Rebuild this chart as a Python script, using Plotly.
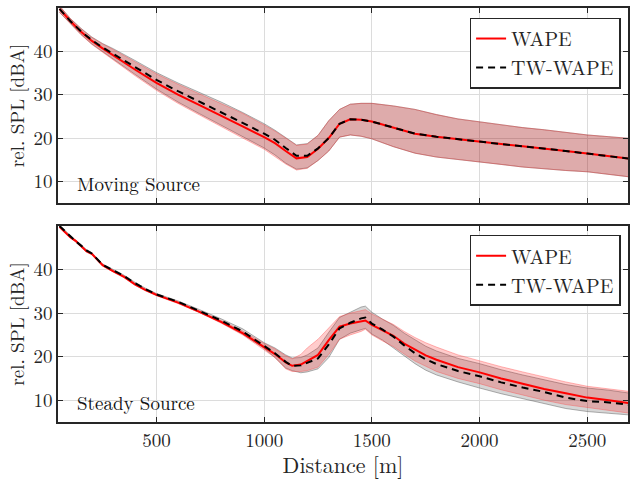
import plotly.graph_objects as go

# ---------------- data: Moving Source (top) ----------------
x_mov = [50, 100, 150, 200, 250, 300, 400, 500, 600, 700, 800, 900, 1000, 1050, 1100, 1150,
         1200, 1250, 1300, 1350, 1400, 1450, 1500, 1600, 1700, 1800, 1900, 2000, 2100, 2200,
         2300, 2400, 2500, 2600, 2700]
wape_mov = [49.8, 47.0, 44.5, 42.4, 40.7, 39.0, 35.8, 32.7, 30.0, 27.6, 25.2, 22.7, 20.2, 18.8,
            17.0, 15.3, 15.6, 17.5, 20.0, 23.3, 24.3, 24.2, 23.8, 22.4, 21.0, 20.3, 19.7, 19.1,
            18.6, 18.1, 17.6, 17.0, 16.4, 15.8, 15.2]
wape_mov_hi = [50.5, 47.6, 45.2, 43.2, 41.7, 40.4, 37.6, 34.8, 32.4, 30.2, 28.0, 25.7, 23.0, 21.6,
               20.0, 18.3, 18.6, 20.6, 24.0, 26.6, 27.8, 28.0, 28.0, 27.4, 26.6, 25.4, 24.4, 23.7,
               23.0, 22.4, 21.9, 21.3, 20.7, 20.3, 19.9]
wape_mov_lo = [49.0, 46.4, 43.8, 41.6, 39.9, 38.0, 34.4, 31.0, 28.0, 25.3, 22.6, 20.0, 17.4, 15.8,
               14.0, 12.6, 13.0, 14.8, 17.0, 20.2, 20.7, 20.4, 19.8, 18.0, 16.5, 15.6, 15.0, 14.5,
               13.9, 13.3, 12.9, 12.5, 12.2, 11.6, 11.0]
tw_mov = [49.8, 47.0, 44.6, 42.6, 40.9, 39.4, 36.4, 33.4, 30.8, 28.4, 26.0, 23.5, 21.0, 19.6,
          17.7, 15.9, 15.9, 17.6, 20.0, 23.3, 24.3, 24.2, 23.8, 22.4, 21.0, 20.3, 19.7, 19.1,
          18.6, 18.1, 17.6, 17.0, 16.4, 15.8, 15.2]
tw_mov_hi = [50.5, 47.6, 45.3, 43.3, 41.8, 40.6, 37.9, 35.1, 32.7, 30.5, 28.3, 25.9, 23.3, 21.8,
             20.2, 18.4, 18.7, 20.6, 24.0, 26.6, 27.8, 28.0, 28.0, 27.4, 26.6, 25.4, 24.4, 23.7,
             23.0, 22.4, 21.9, 21.3, 20.7, 20.3, 19.9]
tw_mov_lo = [49.0, 46.4, 43.9, 41.7, 40.0, 38.2, 34.7, 31.3, 28.3, 25.6, 22.9, 20.3, 17.7, 16.1,
             14.2, 12.8, 13.1, 14.8, 17.0, 20.2, 20.7, 20.4, 19.8, 18.0, 16.5, 15.6, 15.0, 14.5,
             13.9, 13.3, 12.9, 12.5, 12.2, 11.6, 11.0]

# ---------------- data: Steady Source (bottom) ----------------
x_std = [50, 75, 100, 125, 150, 175, 200, 250, 300, 350, 400, 450, 500, 600, 700, 800, 900, 1000,
         1050, 1100, 1130, 1170, 1200, 1250, 1300, 1350, 1400, 1450, 1470, 1500, 1550, 1600, 1650,
         1700, 1750, 1800, 1900, 2000, 2100, 2200, 2300, 2400, 2500, 2600, 2700]
wape_std = [49.8, 48.6, 47.4, 46.6, 45.3, 44.2, 43.6, 41.0, 39.6, 38.3, 36.6, 35.3, 34.2, 32.4,
            30.3, 28.0, 25.4, 22.2, 20.6, 18.7, 17.9, 18.2, 19.0, 20.4, 23.8, 26.9, 27.6, 28.0,
            28.3, 27.3, 26.0, 24.8, 23.0, 21.6, 20.3, 19.3, 17.6, 16.4, 15.0, 13.8, 12.6, 11.6,
            10.6, 10.0, 9.3]
wape_std_hi = [50.0, 48.8, 47.6, 46.8, 45.5, 44.4, 43.8, 41.2, 39.8, 38.5, 36.8, 35.5, 34.4, 32.6,
               30.5, 28.3, 25.9, 23.0, 21.8, 20.2, 19.5, 20.5, 22.0, 24.0, 26.6, 29.2, 30.0, 30.6,
               30.8, 29.8, 28.6, 27.4, 25.8, 24.4, 23.2, 22.2, 20.4, 19.0, 17.7, 16.5, 15.3, 14.2,
               13.2, 12.6, 12.0]
wape_std_lo = [49.6, 48.4, 47.2, 46.4, 45.1, 44.0, 43.4, 40.8, 39.4, 38.1, 36.4, 35.1, 34.0, 32.2,
               30.1, 27.7, 25.0, 21.5, 19.8, 17.2, 16.6, 16.6, 16.8, 17.6, 20.5, 24.0, 25.0, 25.8,
               26.3, 25.0, 23.6, 22.3, 20.6, 19.0, 17.8, 16.6, 15.0, 13.8, 12.4, 11.2, 10.0, 9.0,
               8.3, 7.7, 7.0]
tw_std = [50.0, 48.8, 47.6, 46.5, 45.5, 44.4, 43.7, 41.1, 39.8, 38.5, 36.9, 35.5, 34.3, 32.6,
          30.5, 28.3, 25.8, 22.6, 20.8, 18.8, 17.9, 18.0, 18.6, 19.6, 22.8, 26.5, 27.8, 28.8,
          29.0, 27.6, 26.2, 24.6, 22.6, 20.8, 19.4, 18.3, 16.7, 15.5, 14.1, 12.9, 11.9, 10.6,
          9.8, 9.5, 8.9]
tw_std_hi = [50.2, 49.0, 47.8, 46.7, 45.7, 44.6, 43.9, 41.3, 40.0, 38.7, 37.1, 35.7, 34.5, 32.8,
             30.8, 28.7, 26.4, 23.2, 22.0, 20.4, 19.7, 19.8, 20.4, 22.0, 25.6, 29.0, 30.2, 31.4,
             31.6, 30.2, 28.6, 27.2, 25.4, 23.8, 22.4, 21.3, 19.6, 18.4, 17.0, 15.8, 14.7, 13.6,
             12.8, 12.3, 11.6]
tw_std_lo = [49.8, 48.6, 47.4, 46.3, 45.3, 44.2, 43.5, 40.9, 39.6, 38.3, 36.7, 35.3, 34.1, 32.4,
             30.2, 27.9, 25.2, 21.9, 19.8, 17.4, 16.8, 16.3, 16.5, 17.2, 19.8, 24.0, 25.4, 26.2,
             26.5, 25.2, 23.8, 22.2, 20.2, 18.4, 16.9, 15.8, 14.2, 12.8, 11.5, 10.3, 9.2, 8.1,
             7.4, 7.0, 6.6]

panel_labels = ["Moving Source", "Steady Source"]
x_ticks = [500, 1000, 1500, 2000, 2500]
y_ticks = [10, 20, 30, 40]

FONT = "Latin Modern Roman, Liberation Serif, serif"
TXT = "#262626"

fig = go.Figure()


def band(x, hi, lo, fill, edge, xa, ya):
    fig.add_trace(go.Scatter(
        x=list(x) + list(x)[::-1], y=list(hi) + list(lo)[::-1],
        fill="toself", fillcolor=fill, mode="lines",
        line=dict(color=edge, width=0.8), hoverinfo="skip", showlegend=False,
        xaxis=xa, yaxis=ya))


panels = [
    (x_mov, wape_mov, wape_mov_hi, wape_mov_lo, tw_mov, tw_mov_hi, tw_mov_lo, "x", "y", "legend"),
    (x_std, wape_std, wape_std_hi, wape_std_lo, tw_std, tw_std_hi, tw_std_lo, "x2", "y2", "legend2"),
]

for (x, w, whi, wlo, t, thi, tlo, xa, ya, lg) in panels:
    band(x, thi, tlo, "rgba(0,0,0,0.16)", "rgba(90,90,90,0.6)", xa, ya)
    band(x, whi, wlo, "rgba(255,0,0,0.2)", "rgba(255,60,60,0.45)", xa, ya)
    fig.add_trace(go.Scatter(x=x, y=w, mode="lines", name="WAPE",
                             line=dict(color="#ff0000", width=2), xaxis=xa, yaxis=ya, legend=lg))
    fig.add_trace(go.Scatter(x=x, y=t, mode="lines", name="TW-WAPE",
                             line=dict(color="#000000", width=2, dash="7px,5px"),
                             xaxis=xa, yaxis=ya, legend=lg))

axis_common = dict(
    range=[43, 2689], showgrid=True, gridcolor="#dcdcdc", gridwidth=1,
    showline=True, linecolor=TXT, linewidth=1.5, mirror="ticks",
    ticks="inside", ticklen=5, tickcolor=TXT, zeroline=False,
    tickvals=x_ticks, tickfont=dict(family=FONT, size=19, color=TXT),
)
yaxis_common = dict(
    range=[5, 50], showgrid=True, gridcolor="#dcdcdc", gridwidth=1,
    showline=True, linecolor=TXT, linewidth=1.5, mirror="ticks",
    ticks="inside", ticklen=5, tickcolor=TXT, zeroline=False,
    tickvals=y_ticks, tickfont=dict(family=FONT, size=19, color=TXT),
    title=dict(text="rel. SPL [dBA]", font=dict(family=FONT, size=19, color=TXT), standoff=4),
)

legend_common = dict(
    bgcolor="white", bordercolor=TXT, borderwidth=1.5,
    font=dict(family=FONT, size=20, color=TXT),
    xanchor="right", yanchor="top", tracegroupgap=0,
    itemwidth=30,
)

fig.update_layout(
    width=630, height=479,
    margin=dict(l=58, r=0, t=8, b=57),
    paper_bgcolor="white", plot_bgcolor="white",
    showlegend=True,
    xaxis=dict(axis_common, domain=[0, 1], anchor="y", showticklabels=False),
    yaxis=dict(yaxis_common, domain=[0.529, 1.0], anchor="x"),
    xaxis2=dict(axis_common, domain=[0, 1], anchor="y2",
                title=dict(text="Distance [m]", font=dict(family=FONT, size=22, color=TXT),
                           standoff=7)),
    yaxis2=dict(yaxis_common, domain=[0.0, 0.4734], anchor="x2"),
    legend=dict(legend_common, x=0.987, y=0.977),
    legend2=dict(legend_common, x=0.987, y=0.452),
    annotations=[
        dict(text=panel_labels[0], x=120, y=9.4, xref="x", yref="y", xanchor="left",
             yanchor="middle", showarrow=False, font=dict(family=FONT, size=19, color="#111")),
        dict(text=panel_labels[1], x=120, y=9.4, xref="x2", yref="y2", xanchor="left",
             yanchor="middle", showarrow=False, font=dict(family=FONT, size=19, color="#111")),
    ],
)

fig.write_html("out.html")
